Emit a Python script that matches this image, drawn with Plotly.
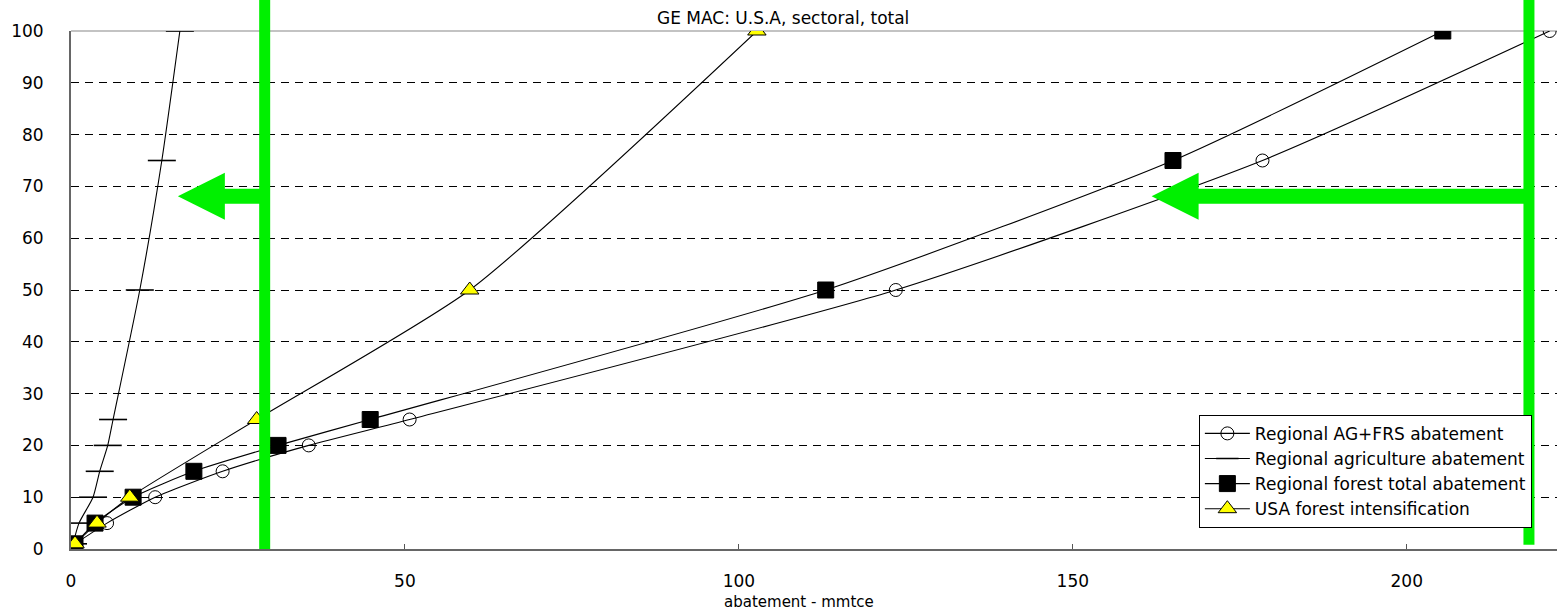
import plotly.graph_objects as go

# Abatement (mmtce) at each price level ($/tce)
price_levels = [1, 5, 10, 15, 20, 25, 50, 75, 100]
ag_frs_abatement = [0.6, 5.4, 12.6, 22.7, 35.6, 50.7, 123.5, 178.4, 221.4]
agriculture_abatement = [0.3, 1.2, 3.3, 4.3, 5.5, 6.3, 10.3, 13.6, 16.3]
forest_total_abatement = [0.6, 3.6, 9.3, 18.4, 31.0, 44.8, 113.0, 165.0, 205.4]

usa_price_levels = [1, 5, 10, 25, 50, 100]
usa_intensification = [0.6, 3.9, 8.8, 27.8, 59.7, 102.7]

y_ticks = list(range(0, 101, 10))
x_ticks = [0, 50, 100, 150, 200]

X_RANGE = [0, 222.5]
Y_RANGE = [0, 100]
W, H = 1560, 613
M = dict(l=71, r=3, t=31, b=64)
PW = W - M["l"] - M["r"]
PH = H - M["t"] - M["b"]

FONT = "DejaVu Sans, Verdana, sans-serif"
GREEN = "#00f000"

fig = go.Figure()
line_style = dict(color="black", width=1.1, shape="spline", smoothing=0.6)

fig.add_trace(go.Scatter(
    x=ag_frs_abatement, y=price_levels, mode="lines+markers",
    name="Regional AG+FRS abatement", line=line_style,
    marker=dict(symbol="circle-open", size=13, color="black", line=dict(width=1)),
))
fig.add_trace(go.Scatter(
    x=agriculture_abatement, y=price_levels, mode="lines+markers",
    name="Regional agriculture abatement", line=line_style,
    marker=dict(symbol="line-ew", size=20, color="black", line=dict(width=1.6, color="black")),
))
fig.add_trace(go.Scatter(
    x=forest_total_abatement, y=price_levels, mode="lines+markers",
    name="Regional forest total abatement", line=line_style,
    marker=dict(symbol="square", size=16, color="black", line=dict(width=1, color="black")),
))
fig.add_trace(go.Scatter(
    x=usa_intensification, y=usa_price_levels, mode="lines+markers",
    name="USA forest intensification", line=line_style,
    marker=dict(symbol="triangle-up", size=16, color="#ffff00", line=dict(width=1, color="black")),
))


def to_px(xv):
    return (xv - X_RANGE[0]) / (X_RANGE[1] - X_RANGE[0])


def to_py(yv):
    return (yv - Y_RANGE[0]) / (Y_RANGE[1] - Y_RANGE[0])


# Green overlay: vertical bars with arrows pointing left
bar_hw = 5.5 / PW
head_len = 47 / PW
head_hh = 23.5 / PH
shaft_hh = 7.5 / PH
top_y = 1 + M["t"] / PH + 0.01

shapes = []
for bar_x, bar_bottom, tip_x, arrow_y in [(29.0, 0.0, 16.0, 68.1), (218.3, 0.008, 161.8, 68.1)]:
    bx = to_px(bar_x)
    shapes.append(dict(type="rect", xref="paper", yref="paper",
                       x0=bx - bar_hw, x1=bx + bar_hw, y0=bar_bottom, y1=top_y,
                       fillcolor=GREEN, line=dict(width=0), layer="above"))
    tx = to_px(tip_x)
    ty = to_py(arrow_y)
    hb = tx + head_len
    path = (f"M{tx},{ty} L{hb},{ty + head_hh} L{hb},{ty + shaft_hh} L{bx},{ty + shaft_hh} "
            f"L{bx},{ty - shaft_hh} L{hb},{ty - shaft_hh} L{hb},{ty - head_hh} Z")
    shapes.append(dict(type="path", xref="paper", yref="paper", path=path,
                       fillcolor=GREEN, line=dict(width=0), layer="above"))

# Solid top frame line
shapes.append(dict(type="line", xref="paper", yref="paper", x0=0, x1=1, y0=1, y1=1,
                   line=dict(color="#888888", width=1.2), layer="below"))

fig.update_layout(
    width=W, height=H, margin=M,
    paper_bgcolor="white", plot_bgcolor="white",
    font=dict(family=FONT, color="black", size=17),
    showlegend=True,
    legend=dict(x=0.759, y=0.259, xanchor="left", yanchor="top",
                bgcolor="white", bordercolor="black", borderwidth=1,
                font=dict(size=17, family=FONT), tracegroupgap=0,
                itemwidth=45),
    shapes=shapes,
    annotations=[
        dict(text="GE MAC: U.S.A, sectoral, total", xref="paper", yref="paper",
             x=0.479, y=1, yanchor="bottom", yshift=1, showarrow=False,
             font=dict(size=17, family=FONT)),
        dict(text="abatement - mmtce", xref="paper", yref="paper",
             x=0.49, y=0, yanchor="top", yshift=-42, showarrow=False,
             font=dict(size=15, family=FONT)),
    ],
)

fig.update_xaxes(
    range=X_RANGE, tickvals=x_ticks, ticks="inside", ticklen=5, tickcolor="#555555",
    showgrid=False, zeroline=False, showline=True, linecolor="#666666", linewidth=2,
    ticklabelstandoff=16, tickfont=dict(size=17),
)
fig.update_yaxes(
    range=Y_RANGE, tickvals=y_ticks, ticks="", showgrid=True, gridcolor="black",
    gridwidth=1, griddash="8px,6px", zeroline=False, showline=True,
    linecolor="#666666", linewidth=2, ticklabelstandoff=22, tickfont=dict(size=17),
)

fig.write_html("out.html")
